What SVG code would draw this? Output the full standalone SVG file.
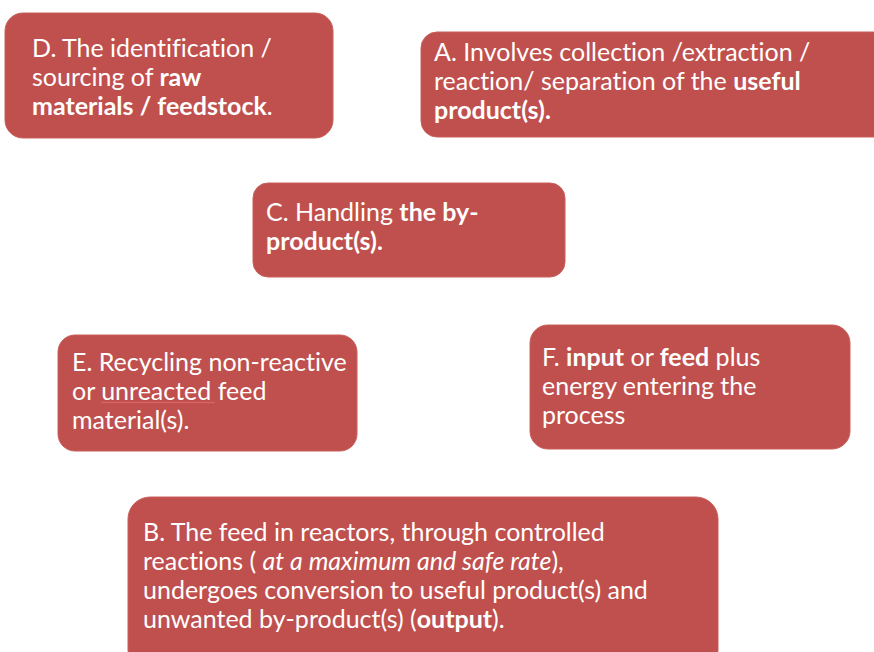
<svg xmlns="http://www.w3.org/2000/svg" width="874" height="652" viewBox="0 0 874 652">
  <style>
    .box { fill: #C0504D; stroke: #C85F5C; stroke-width: 1; }
    .lbl { font-family: Lato, "Open Sans", "Liberation Sans", sans-serif; font-size: 25px; fill: #FFFFFF; font-variant-ligatures: none; }
    .b { font-weight: bold; }
    .i { font-style: italic; }
    .squiggle { fill: none; stroke: #E26B6B; stroke-width: 1; }
  </style>
  <rect width="874" height="652" fill="#FFFFFF"/>

  <g id="node-D">
    <rect class="box" x="5" y="13" width="328" height="125" rx="18"/>
    <text class="lbl" x="32" y="57">D. The identification /</text>
    <text class="lbl" x="32" y="86">sourcing of <tspan class="b">raw</tspan></text>
    <text class="lbl" x="32" y="115"><tspan class="b">materials / feedstock</tspan>.</text>
  </g>

  <g id="node-A">
    <rect class="box" x="421" y="32" width="470" height="105" rx="16"/>
    <text class="lbl" x="434" y="61">A. Involves collection /extraction /</text>
    <text class="lbl" x="434" y="90">reaction/ separation of the <tspan class="b">useful</tspan></text>
    <text class="lbl" x="434" y="119"><tspan class="b">product(s).</tspan></text>
  </g>

  <g id="node-C">
    <rect class="box" x="253" y="183" width="312" height="94" rx="15"/>
    <text class="lbl" x="266" y="221">C. Handling <tspan class="b">the by-</tspan></text>
    <text class="lbl" x="266" y="250"><tspan class="b">product(s).</tspan></text>
  </g>

  <g id="node-E">
    <rect class="box" x="58" y="335" width="299" height="116" rx="17"/>
    <text class="lbl" x="72" y="371">E. Recycling non-reactive</text>
    <text class="lbl" x="72" y="400">or unreacted feed</text>
    <!-- spell-check underline beneath "unreacted" -->
    <path class="squiggle" d="M101 403 l2 -1 l2 1 l2 -1 l2 1 l2 -1 l2 1 l2 -1 l2 1 l2 -1 l2 1 l2 -1 l2 1 l2 -1 l2 1 l2 -1 l2 1 l2 -1 l2 1 l2 -1 l2 1 l2 -1 l2 1 l2 -1 l2 1 l2 -1 l2 1 l2 -1 l2 1 l2 -1 l2 1 l2 -1 l2 1 l2 -1 l2 1 l2 -1 l2 1 l2 -1 l2 1 l2 -1 l2 1 l2 -1 l2 1 l2 -1 l2 1 l2 -1 l2 1 l2 -1 l2 1 l2 -1 l2 1 l2 -1 l2 1 l2 -1 l2 1 l2 -1 l2 1 l2 -1"/>
    <text class="lbl" x="72" y="429">material(s).</text>
  </g>

  <g id="node-F">
    <rect class="box" x="530" y="325" width="320" height="124" rx="18"/>
    <text class="lbl" x="542" y="366">F. <tspan class="b">input</tspan> or <tspan class="b">feed</tspan> plus</text>
    <text class="lbl" x="542" y="395">energy entering the</text>
    <text class="lbl" x="542" y="424">process</text>
  </g>

  <g id="node-B">
    <rect class="box" x="128" y="497" width="590" height="175" rx="22"/>
    <text class="lbl" x="143" y="541">B. The feed in reactors, through controlled</text>
    <text class="lbl" x="143" y="570">reactions ( <tspan class="i">at a maximum and safe rate</tspan>),</text>
    <text class="lbl" x="143" y="599">undergoes conversion to useful product(s) and</text>
    <text class="lbl" x="143" y="628">unwanted by-product(s) (<tspan class="b">output</tspan>).</text>
  </g>

  <g id="connectors"/>
</svg>
